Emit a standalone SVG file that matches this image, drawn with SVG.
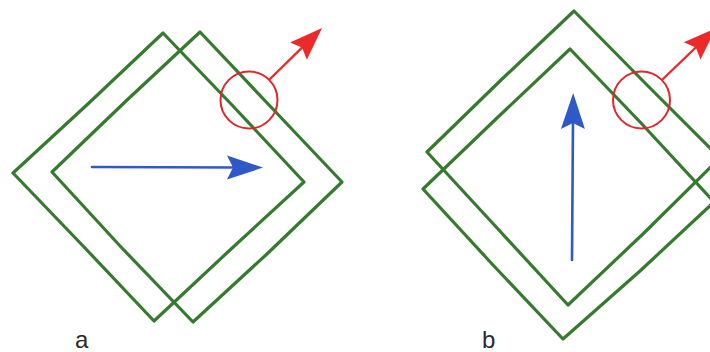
<svg xmlns="http://www.w3.org/2000/svg" width="710" height="352" viewBox="0 0 710 352">
  <style>
    .frame { fill: none; stroke: #367a2f; stroke-width: 3.2; stroke-linejoin: round; stroke-linecap: round; }
    .spot { fill: none; stroke: #e3262c; stroke-width: 2; }
    .move { fill: none; stroke: #2f58c9; stroke-width: 2.6; stroke-linecap: round; }
    .normal { fill: none; stroke: #ec2a2a; stroke-width: 2.4; stroke-linecap: round; }
    .label { font-family: "Liberation Sans", Arial, sans-serif; font-size: 24px; fill: #2a2a2a; }
  </style>
  <defs>
    <marker id="head-blue" markerUnits="userSpaceOnUse" viewBox="-2 -14 42 28" refX="10" refY="0" markerWidth="42" markerHeight="28" orient="auto" overflow="visible">
      <path d="M36,0 L0,-12 L6,0 L0,12 Z" fill="#2f58c9"/>
    </marker>
    <marker id="head-red" markerUnits="userSpaceOnUse" viewBox="-2 -14 38 28" refX="10" refY="0" markerWidth="38" markerHeight="28" orient="auto" overflow="visible">
      <path d="M33,0 L0,-12 L5,0 L0,12 Z" fill="#ec2a2a"/>
    </marker>
  </defs>

  <rect width="710" height="352" fill="#ffffff"/>

  <!-- panel a: frame shifted sideways -->
  <g id="a-frame-left">
    <path class="frame" d="M163,33 L232,105 L304,182 L230,250 L154,321 L85,248 L13,173 L90,102 Z"/>
  </g>
  <g id="a-frame-right">
    <path class="frame" d="M200,32 L270,106 L342,182 L268,253 L193,322 L121,247 L52,172 L126,101 Z"/>
  </g>
  <g id="a-spot">
    <circle class="spot" cx="249" cy="100" r="28.5"/>
  </g>

  <!-- panel b: frame shifted upward -->
  <g id="b-frame-upper">
    <path class="frame" d="M574,11 L648,86 L720,158 L645,232 L568,305 L498,229 L427,152 L500,81 Z"/>
  </g>
  <g id="b-frame-lower">
    <path class="frame" d="M570,49 L641,123 L714,202 L640,271 L563,339 L493,265 L423,189 L497,118 Z"/>
  </g>
  <g id="b-spot">
    <circle class="spot" cx="641.5" cy="100" r="28.5"/>
  </g>

  <!-- arrows -->
  <g id="connectors">
    <path class="move" d="M92,167 L237,167.5" marker-end="url(#head-blue)"/>
    <path class="normal" d="M270,79 L305.6,44.1" marker-end="url(#head-red)"/>
    <path class="move" d="M572,260 L573,119" marker-end="url(#head-blue)"/>
    <path class="normal" d="M663,79 L699.4,44" marker-end="url(#head-red)"/>
  </g>

  <g id="labels">
    <text class="label" x="75" y="348">a</text>
    <text class="label" x="482" y="348">b</text>
  </g>
</svg>
